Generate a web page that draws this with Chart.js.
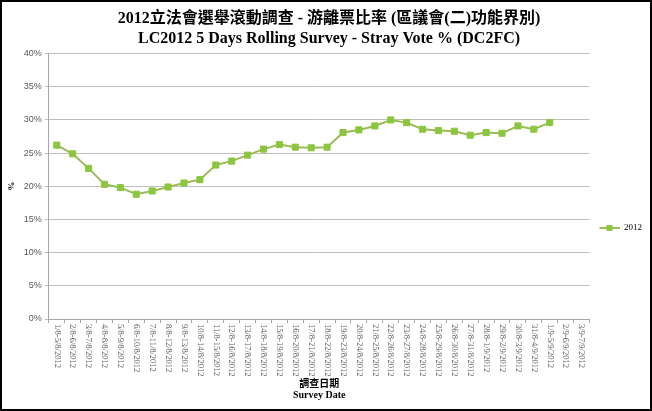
<!DOCTYPE html>
<html>
<head>
<meta charset="utf-8">
<script src="https://cdn.jsdelivr.net/npm/chart.js@4/dist/chart.umd.min.js"></script>
<style>
html,body{margin:0;padding:0;background:#fff;}
#wrap{width:652px;height:411px;}
</style>
</head>
<body>
<div id="wrap"><canvas id="myChart" width="652" height="411"></canvas></div>
<script>
// categories (survey windows)
var fechas = ["1/8-5/8/2012","2/8-6/8/2012","3/8-7/8/2012","4/8-8/8/2012","5/8-9/8/2012","6/8-10/8/2012",
  "7/8-11/8/2012","8/8-12/8/2012","9/8-13/8/2012","10/8-14/8/2012","11/8-15/8/2012","12/8-16/8/2012",
  "13/8-17/8/2012","14/8-18/8/2012","15/8-19/8/2012","16/8-20/8/2012","17/8-21/8/2012","18/8-22/8/2012",
  "19/8-23/8/2012","20/8-24/8/2012","21/8-25/8/2012","22/8-26/8/2012","23/8-27/8/2012","24/8-28/8/2012",
  "25/8-29/8/2012","26/8-30/8/2012","27/8-31/8/2012","28/8-1/9/2012","29/8-2/9/2012","30/8-3/9/2012",
  "31/8-4/9/2012","1/9-5/9/2012","2/9-6/9/2012","3/9-7/9/2012"];
// stray vote %, 2012
var voto_2012 = [26.2,24.9,22.7,20.3,19.8,18.8,19.3,19.9,20.5,21.0,23.2,23.8,24.7,25.6,26.3,25.9,
  25.8,25.9,28.1,28.5,29.1,30.0,29.6,28.6,28.4,28.3,27.7,28.1,28.0,29.1,28.6,29.6,null,null];
var ticks_y = [0,5,10,15,20,25,30,35,40];

var titulo = ["2012立法會選舉滾動調查 - 游離票比率 (區議會(二)功能界別)",
  "LC2012 5 Days Rolling Survey - Stray Vote % (DC2FC)"];

//// legend marker: line with square (left part left empty as spacing)
var marca = document.createElement("canvas");
marca.width = 30; marca.height = 8;
var mc = marca.getContext("2d");
mc.strokeStyle = "#9bbb59"; mc.lineWidth = 2;
mc.beginPath(); mc.moveTo(10,4); mc.lineTo(30,4); mc.stroke();
mc.fillStyle = "#8cc63f"; mc.fillRect(17,1,6,6);

//// fondo, marco y etiquetas rotadas del eje x
var extras = {
  id: "extras",
  beforeDraw: function(chart){
    var c = chart.ctx;
    c.save(); c.fillStyle = "#fff"; c.fillRect(0,0,chart.width,chart.height); c.restore();
  },
  afterDraw: function(chart){
    var c = chart.ctx;
    var sx = chart.scales.x;
    c.save();
    c.font = "8.5px 'Liberation Serif'";
    c.fillStyle = "#595959";
    c.textAlign = "left";
    c.textBaseline = "middle";
    for (var i = 0; i < fechas.length; i++) {
      var px = sx.getPixelForTick(i);
      c.save();
      c.translate(px, sx.top + 5);
      c.rotate(Math.PI/2);
      c.fillText(fechas[i], 0, 0);
      c.restore();
    }
    c.strokeStyle = "#000"; c.lineWidth = 2;
    c.strokeRect(1,1,chart.width-2,chart.height-2);
    c.restore();
  }
};

var ctx = document.getElementById("myChart").getContext("2d");
var myChart = new Chart(ctx, {
  type: "line",
  data: {
    labels: fechas,
    datasets: [{
      label: "2012",
      data: voto_2012,
      borderColor: "#9bbb59",
      borderWidth: 2,
      backgroundColor: "#8cc63f",
      pointBackgroundColor: "#8cc63f",
      pointBorderColor: "#8cc63f",
      pointStyle: "rect",
      pointRadius: 4.3,
      pointBorderWidth: 1,
      tension: 0,
      spanGaps: false
    }]
  },
  options: {
    responsive: false,
    animation: false,
    layout: { padding: { left: 6, right: 0, top: 0, bottom: 10 } },
    plugins: {
      title: {
        display: true,
        text: titulo,
        color: "#000",
        font: { family: "'Liberation Serif','Noto Sans CJK TC'", size: 16, weight: "bold", lineHeight: 1.3 },
        padding: { top: 8, bottom: 4 }
      },
      legend: {
        position: "right",
        title: {
          display: true,
          text: " ",
          font: { size: 9 },
          padding: { top: 44, bottom: 0 }
        },
        labels: {
          usePointStyle: true,
          pointStyle: marca,
          pointStyleWidth: 30,
          color: "#000",
          font: { family: "'Liberation Serif'", size: 9 },
          padding: 0
        }
      },
      tooltip: { enabled: false }
    },
    scales: {
      x: {
        offset: true,
        border: { color: "#a6a6a6" },
        grid: { display: true, drawOnChartArea: false, offset: true, tickLength: 4, color: "#a6a6a6" },
        ticks: { display: false },
        title: {
          display: true,
          text: ["調查日期", "Survey Date"],
          color: "#000",
          font: { family: "'Liberation Serif','Noto Sans CJK TC'", size: 10, weight: "bold", lineHeight: 1.1 },
          padding: { top: 56, bottom: 0 }
        }
      },
      y: {
        min: 0,
        max: 40,
        afterBuildTicks: function(axis){ axis.ticks = ticks_y.map(function(v){ return { value: v }; }); },
        border: { color: "#a6a6a6" },
        grid: { color: "#bfbfbf", tickLength: 4 },
        ticks: {
          color: "#595959",
          font: { family: "'Liberation Sans'", size: 9 },
          padding: 3,
          callback: function(v){ return v + "%"; }
        },
        title: {
          display: true,
          text: "%",
          color: "#000",
          font: { family: "'Liberation Serif'", size: 9, weight: "bold" },
          padding: { top: 0, bottom: 4 }
        }
      }
    }
  },
  plugins: [extras]
});
</script>
</body>
</html>
